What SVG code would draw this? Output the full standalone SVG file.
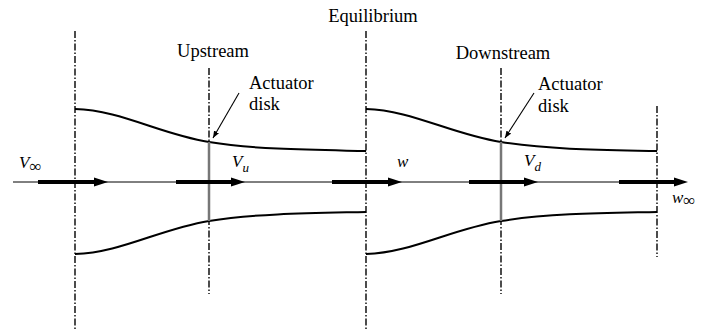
<svg xmlns="http://www.w3.org/2000/svg" width="710" height="331" viewBox="0 0 710 331">
<style>
.t{font-family:"Liberation Serif","Times New Roman","DejaVu Serif",serif;font-size:18.5px;fill:#000}
.it{font-family:"Liberation Serif","Times New Roman","DejaVu Serif",serif;font-size:17px;font-style:italic;fill:#000}
.sub{font-size:13px}
.inf{font-size:17px;font-style:normal}
.dd{stroke:#000;stroke-width:1.4;stroke-dasharray:7 2 1.5 2;fill:none}
.sl{stroke:#000;stroke-width:2;fill:none}
.ax{stroke:#000;stroke-width:1;fill:none}
.th{stroke:#000;stroke-width:4;fill:none}
.disk{stroke:#777;stroke-width:2.5;fill:none}
.ptr{stroke:#000;stroke-width:1.1;fill:none}
</style>
<defs>
<marker id="ah" viewBox="0 0 10 10" refX="10" refY="5" markerWidth="7" markerHeight="7" markerUnits="userSpaceOnUse" orient="auto">
<path d="M0,1 L10,5 L0,9 Z" fill="#000"/>
</marker>
</defs>
<g id="section-lines">
<line class="dd" x1="75" y1="31" x2="75" y2="331"/>
<line class="dd" x1="209" y1="68" x2="209" y2="294"/>
<line class="dd" x1="366" y1="31" x2="366" y2="331"/>
<line class="dd" x1="501" y1="68" x2="501" y2="294"/>
<line class="dd" x1="657" y1="106" x2="657" y2="257"/>
</g>
<g id="streamtube-upstream">
<path class="sl" d="M75,109 C120,110 160,134 209,142 S320,150 366,151"/>
<path class="sl" d="M75,254 C120,253 160,229 209,221 S320,213 366,212"/>
</g>
<g id="streamtube-downstream">
<path class="sl" d="M366,109 C411,110 451,134 501,142 S611,150 657,151"/>
<path class="sl" d="M366,254 C411,253 451,229 501,221 S611,213 657,212"/>
</g>
<g id="disk-upstream">
<line class="disk" x1="209" y1="142" x2="209" y2="221"/>
</g>
<g id="disk-downstream">
<line class="disk" x1="501" y1="142" x2="501" y2="221"/>
</g>
<g id="connectors">
<line class="ax" x1="13" y1="182" x2="680" y2="182"/>
<line class="th" x1="38" y1="182" x2="96" y2="182"/>
<polygon points="94,177.5 108,182 94,186.5" fill="#000"/>
<line class="th" x1="176" y1="182" x2="233" y2="182"/>
<polygon points="231,177.5 245,182 231,186.5" fill="#000"/>
<line class="th" x1="332" y1="182" x2="390" y2="182"/>
<polygon points="388,177.5 402,182 388,186.5" fill="#000"/>
<line class="th" x1="469" y1="182" x2="526" y2="182"/>
<polygon points="524,177.5 538,182 524,186.5" fill="#000"/>
<line class="th" x1="619" y1="182" x2="676" y2="182"/>
<polygon points="674,177.5 688,182 674,186.5" fill="#000"/>
<line class="ptr" x1="239" y1="93" x2="213" y2="138" marker-end="url(#ah)"/>
<line class="ptr" x1="534" y1="93" x2="505" y2="138" marker-end="url(#ah)"/>
</g>
<g id="labels">
<text class="t" x="373" y="22" text-anchor="middle">Equilibrium</text>
<text class="t" x="213" y="57" text-anchor="middle">Upstream</text>
<text class="t" x="503" y="59" text-anchor="middle">Downstream</text>
<text class="t" x="249" y="89">Actuator</text>
<text class="t" x="249" y="110">disk</text>
<text class="t" x="538" y="90">Actuator</text>
<text class="t" x="538" y="112">disk</text>
<text class="it" x="19" y="168">V<tspan class="inf" dy="4">∞</tspan></text>
<text class="it" x="232" y="167">V<tspan class="sub" dy="5">u</tspan></text>
<text class="it" x="397" y="167">w</text>
<text class="it" x="524" y="166">V<tspan class="sub" dy="5">d</tspan></text>
<text class="it" x="672" y="203">w<tspan class="inf" dy="3">∞</tspan></text>
</g>
</svg>
